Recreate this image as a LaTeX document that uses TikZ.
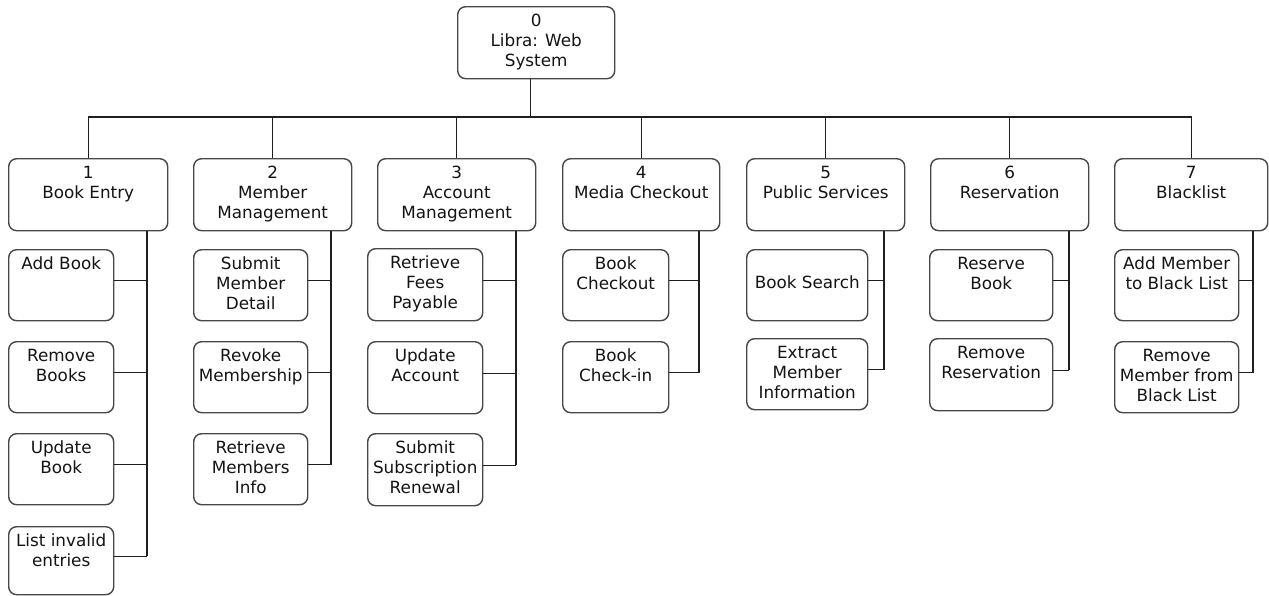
\documentclass[tikz,border=0pt]{standalone}
\usepackage{fontspec}
\setmainfont{DejaVu Sans}
\tikzset{
  wbox/.style={draw=black!72, line width=1.4pt, rounded corners=8pt, fill=white,
    inner sep=0pt, anchor=north west},
  wtext/.style={font=\fontsize{16.8}{20}\selectfont, align=center, inner sep=0pt,
    anchor=north, text=black!92},
  wire/.style={draw=black!88, line width=1.35pt},
}
% \wbox[extra drop]{name}{x1}{y1}{x2}{y2}{text}: rounded box with its text set from the top
\newcommand\wbox[7][0]{%
  \node[wbox, minimum width={#5pt-#3pt}, minimum height={#6pt-#4pt}] (#2) at (#3,#4) {};
  \node[wtext, yshift={-6.5pt-#1pt}] (#2-t) at (#2.north) {\rule{0pt}{14pt}#7};
}
% \hook{child}{spine}: horizontal link from a child box to its column spine
\newcommand\hook[2]{%
  \coordinate (#1-p) at ([yshift=4.5pt]#1.east);
  \draw[wire] (#1-p) -- (#1-p -| #2);
}
\begin{document}
\begin{tikzpicture}[x=1pt, y=-1pt]
\useasboundingbox (0,0) rectangle (1269,595);
\fill[white] (0,0) rectangle (1269,595);

% root
\wbox{root}{457}{6}{614}{78}{0\\Libra: Web\\System}

% first level
\wbox{n1}{8}{158}{167}{230}{1\\Book Entry}
\wbox{n2}{193}{158}{351}{230}{2\\Member\\Management}
\wbox{n3}{377}{158}{535}{230}{3\\Account\\Management}
\wbox{n4}{562}{158}{719}{230}{4\\Media Checkout}
\wbox{n5}{746}{158}{904}{230}{5\\Public Services}
\wbox{n6}{930}{158}{1088}{230}{6\\Reservation}
\wbox{n7}{1114}{158}{1267}{230}{7\\Blacklist}

% 1 Book Entry
\wbox{c11}{8}{249}{113}{320}{Add Book}
\wbox{c12}{8}{341}{113}{412}{Remove\\Books}
\wbox{c13}{8}{433}{113}{504}{Update\\Book}
\wbox{c14}{8}{526}{113}{594}{List invalid\\entries}

% 2 Member Management
\wbox{c21}{193}{249}{307}{320}{Submit\\Member\\Detail}
\wbox{c22}{193}{341}{307}{412}{Revoke\\Membership}
\wbox{c23}{193}{433}{307}{504}{Retrieve\\Members\\Info}

% 3 Account Management
\wbox{c31}{367}{248}{482}{320}{Retrieve\\Fees\\Payable}
\wbox{c32}{367}{341}{482}{413}{Update\\Account}
\wbox{c33}{367}{433}{482}{505}{Submit\\Subscription\\Renewal}

% 4 Media Checkout
\wbox{c41}{562}{249}{668}{320}{Book\\Checkout}
\wbox{c42}{562}{341}{668}{412}{Book\\Check-in}

% 5 Public Services
\wbox[19]{c51}{746}{249}{867}{320}{Book Search}
\wbox{c52}{746}{338}{867}{409}{Extract\\Member\\Information}

% 6 Reservation
\wbox{c61}{929}{249}{1052}{320}{Reserve\\Book}
\wbox{c62}{929}{338}{1052}{410}{Remove\\Reservation}

% 7 Blacklist
\wbox{c71}{1114}{249}{1238}{320}{Add Member\\to Black List}
\wbox{c72}{1114}{341}{1238}{412}{Remove\\Member from\\Black List}

% bus under the root
\coordinate (bus) at (0,117);
\coordinate (rootdrop) at ([xshift=-5.5pt]root.south);
\draw[wire] (rootdrop) -- (rootdrop |- bus);
\draw[wire] (n1.north) -- (n1.north |- bus) -- (n7.north |- bus) -- (n7.north);
\foreach \n in {n2,n3,n4,n5,n6}
  \draw[wire] (\n.north) -- (\n.north |- bus);

% column spines
\coordinate (s1) at (147,0);
\coordinate (s2) at (331,0);
\coordinate (s3) at (516,0);
\coordinate (s4) at (699,0);
\coordinate (s5) at (884,0);
\coordinate (s6) at (1069,0);
\coordinate (s7) at (1253,0);

\hook{c11}{s1}\hook{c12}{s1}\hook{c13}{s1}\hook{c14}{s1}
\hook{c21}{s2}\hook{c22}{s2}\hook{c23}{s2}
\hook{c31}{s3}\hook{c32}{s3}\hook{c33}{s3}
\hook{c41}{s4}\hook{c42}{s4}
\hook{c51}{s5}\hook{c52}{s5}
\hook{c61}{s6}\hook{c62}{s6}
\hook{c71}{s7}\hook{c72}{s7}

\draw[wire] (n1.south -| s1) -- (c14-p -| s1);
\draw[wire] (n2.south -| s2) -- (c23-p -| s2);
\draw[wire] (n3.south -| s3) -- (c33-p -| s3);
\draw[wire] (n4.south -| s4) -- (c42-p -| s4);
\draw[wire] (n5.south -| s5) -- (c52-p -| s5);
\draw[wire] (n6.south -| s6) -- (c62-p -| s6);
\draw[wire] (n7.south -| s7) -- (c72-p -| s7);
\end{tikzpicture}
\end{document}
